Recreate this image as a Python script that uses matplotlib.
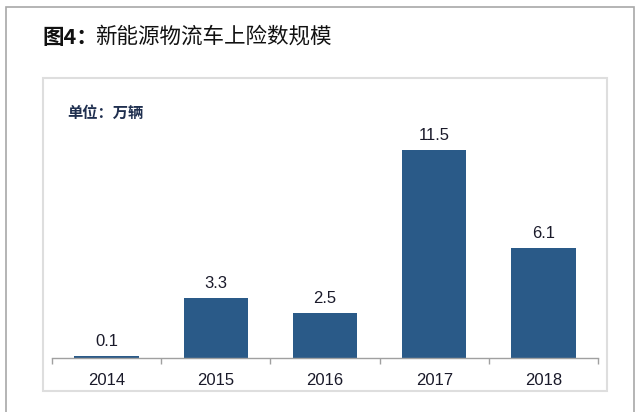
import matplotlib
matplotlib.use("Agg")
import matplotlib.pyplot as plt
from matplotlib.patches import Rectangle
import numpy as np

years = ["2014", "2015", "2016", "2017", "2018"]
values = [0.1, 3.3, 2.5, 11.5, 6.1]
title_bold = "图4："
title_rest = "新能源物流车上险数规模"
unit_label = "单位：万辆"

plt.rcParams['font.family'] = ['Liberation Sans', 'Noto Sans CJK SC', 'DejaVu Sans']

W, H = 640, 412
fig = plt.figure(figsize=(W / 100, H / 100), dpi=100)
fig.patch.set_facecolor("white")

def fx(px):
    return px / W

def fy(py):
    return 1 - py / H

# outer border
fig.patches.append(Rectangle((fx(6), fy(430)), fx(634) - fx(6), fy(7) - fy(430),
                             transform=fig.transFigure, fill=False,
                             edgecolor="#A8A8A8", linewidth=1.2))
# inner chart box
fig.patches.append(Rectangle((fx(43), fy(391)), fx(607) - fx(43), fy(78) - fy(391),
                             transform=fig.transFigure, fill=False,
                             edgecolor="#DEDEDE", linewidth=1.5))

t1 = fig.text(fx(42), fy(37), title_bold, fontsize=15.5, family=['Noto Sans CJK SC'],
              va="center", ha="left", color="#111111", fontweight="bold")
fig.canvas.draw()
bb = t1.get_window_extent()
fig.text(bb.x1 / W - fx(3), fy(37), title_rest, fontsize=15.5, family=['Noto Sans CJK SC'],
         va="center", ha="left", color="#111111")
fig.text(fx(67), fy(113), unit_label, fontsize=11, family=['Noto Sans CJK SC'],
         va="center", ha="left", color="#1F2F4F", fontweight="bold")

ax_left, ax_right = 52, 598
ax_top, ax_bottom = 100, 358
ax = fig.add_axes([fx(ax_left), fy(ax_bottom), fx(ax_right) - fx(ax_left),
                   fy(ax_top) - fy(ax_bottom)])
x = np.arange(len(years))
bars = ax.bar(x, values, width=0.59, color="#2A5A88")
ax.set_xlim(-0.5, len(years) - 0.5)
ymax = (ax_bottom - ax_top) / 18.1
ax.set_ylim(0, ymax)

for xi, v in zip(x, values):
    ax.annotate(f"{v:.1f}", (xi, v), xytext=(0, 5), textcoords="offset points",
                ha="center", va="bottom", fontsize=12, color="#1A1A2A")

for s in ["top", "right", "left"]:
    ax.spines[s].set_visible(False)
ax.spines["bottom"].set_color("#A0A0A0")
ax.spines["bottom"].set_linewidth(1.0)
ax.set_yticks([])
ax.set_xticks(x)
ax.set_xticklabels(years, fontsize=12, color="#1A1A2A")
ax.tick_params(axis="x", which="major", length=0, pad=11)
ax.set_xticks(np.arange(-0.5, len(years)), minor=True)
ax.tick_params(axis="x", which="minor", length=4, color="#A0A0A0", width=1.0)
ax.patch.set_alpha(0)

fig.savefig("out.png", dpi=100)
